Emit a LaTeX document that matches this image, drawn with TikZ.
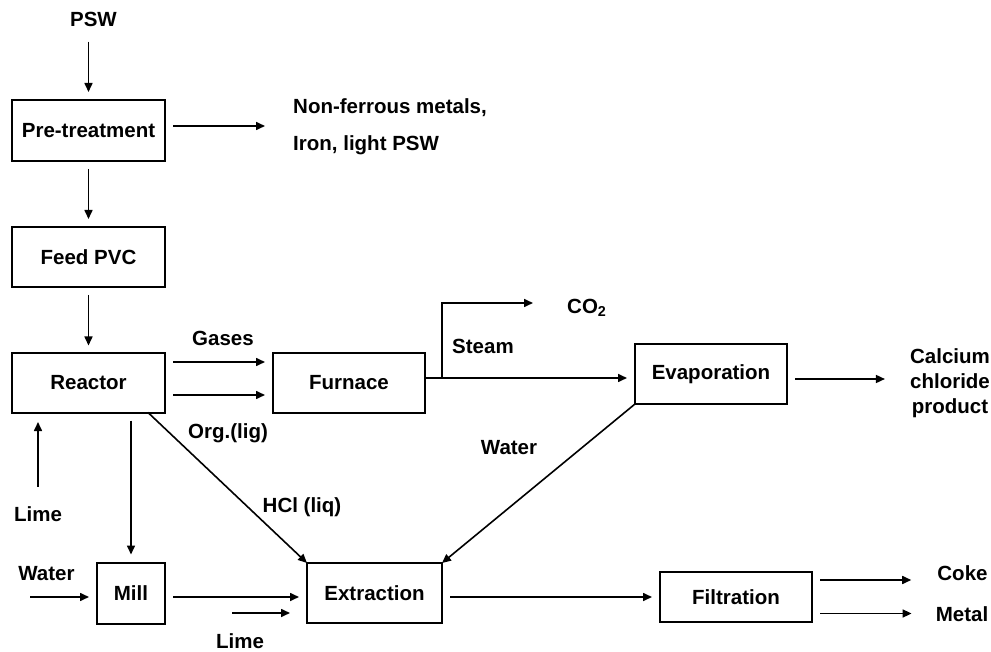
\documentclass[tikz,border=0pt]{standalone}
\usepackage{fontspec}
\setmainfont{Liberation Sans}
\usetikzlibrary{arrows.meta}
\usetikzlibrary{calc}

\begin{document}
\begin{tikzpicture}[x=1pt, y=-1pt,
    font=\bfseries\fontsize{20.5}{24}\selectfont,
    >={Triangle[length=9pt, width=8pt]},
    box/.style={draw, line width=2pt, inner sep=0pt, outer sep=0pt},
    lbl/.style={inner sep=0pt, anchor=base},
    flow/.style={->, line width=1.6pt, shorten >=8pt},
    link/.style={flow, shorten <=8pt}]

  \useasboundingbox (0,0) rectangle (991,652);

  % Process units
  \node[box, minimum width=153pt, minimum height=61pt] (pre) at (88.5,130.5) {Pre-treatment};
  \node[box, minimum width=153pt, minimum height=60pt] (feed) at (88.5,257) {Feed PVC};
  \node[box, minimum width=153pt, minimum height=59pt] (reactor) at (88.5,383) {Reactor};
  \node[box, minimum width=152pt, minimum height=60pt] (furnace) at (349,383) {Furnace};
  \node[box, minimum width=152pt, minimum height=60pt] (evap) at (711,374) {Evaporation};
  \node[box, minimum width=68pt, minimum height=61pt] (mill) at (131,593) {Mill};
  \node[box, minimum width=135pt, minimum height=60pt] (extr) at (374.5,593) {Extraction};
  \node[box, minimum width=152pt, minimum height=50pt] (filt) at (736,597) {Filtration};

  % Streams in and out
  \node[lbl] (psw) at (93.5,26.7) {PSW};
  \node[inner sep=0pt, anchor=west, align=left,
        font=\bfseries\fontsize{20.5}{36.7}\selectfont] (nonfer) at (293,127)
        {Non-ferrous metals,\\Iron, light PSW};
  \node[lbl] (gases) at (223,345) {Gases};
  \node[lbl] (org) at (228,438.3) {Org.(lig)};
  \node[lbl] (hcl) at (302,512.7) {HCl (liq)};
  \node[lbl] (lime1) at (38,521.7) {Lime};
  \node[lbl] (water1) at (46.5,580) {Water};
  \node[lbl] (lime2) at (240,648) {Lime};
  \node[lbl] (steam) at (483,354) {Steam};
  \node[lbl, anchor=base west] (co2) at (567,313.3) {CO\textsubscript{2}};
  \node[lbl] (water2) at (509,454) {Water};
  \node[inner sep=0pt, align=center,
        font=\bfseries\fontsize{20.5}{25}\selectfont] (calc) at (950,383)
        {Calcium\\chloride\\product};
  \node[lbl] (coke) at (962.5,580) {Coke};
  \node[lbl] (metal) at (962,621.7) {Metal};

  % Free ends
  \coordinate (waterin) at (30,597);
  \coordinate (limein) at (232,613);
  \coordinate (split) at ($(furnace.east)+(17,-5)$);

  % Main line
  \draw[flow, shorten <=15pt] (pre.north |- psw.base) -- (pre.north);
  \draw[link] (pre) -- (feed);
  \draw[link] (feed) -- (reactor);
  \draw[link, shorten >=28pt] ($(pre.east)+(0,-4.5)$) -- ($(nonfer.west)+(0,-1)$);

  % Reactor
  \draw[link] ($(reactor.east)+(0,-21)$) -- ($(furnace.west)+(0,-21)$);
  \draw[link] ($(reactor.east)+(0,12)$) -- ($(furnace.west)+(0,12)$);
  \draw[flow, shorten >=0pt] ($(reactor.south)+(59.5,0)$) -- (extr.north west);
  \draw[link] (reactor.south -| mill.north) -- (mill.north);
  \draw[flow, shorten <=20pt, shorten >=9.5pt] (lime1.north) -- (lime1.north |- reactor.south);

  % Mill
  \draw[flow] (waterin) -- (waterin -| mill.west);
  \draw[link] ($(mill.east)+(0,4)$) -- ($(extr.west)+(0,4)$);
  \draw[flow, shorten >=17pt] (limein) -- (limein -| extr.west);

  % Furnace and evaporation
  \draw[flow] ($(furnace.east)+(0,-5)$) -- ($(evap.west)+(0,4)$);
  \draw[flow, shorten >=34pt] (split) |- ($(co2.base west)+(0,-10.3)$);
  \draw[link, shorten >=25pt] ($(evap.east)+(0,5)$) -- ($(calc.west)+(0,-4)$);
  \draw[flow, shorten >=0pt] (evap.south west) -- (extr.north east);

  % Extraction and filtration
  \draw[link] ($(extr.east)+(0,4)$) -- (filt.west);
  \draw[link, shorten >=26pt] ($(filt.east)+(0,-17)$) -- (coke.base west);
  \draw[link, shorten >=24pt] ($(filt.east)+(0,16.5)$) -- ($(metal.base west)+(0,-8.2)$);

\end{tikzpicture}
\end{document}
